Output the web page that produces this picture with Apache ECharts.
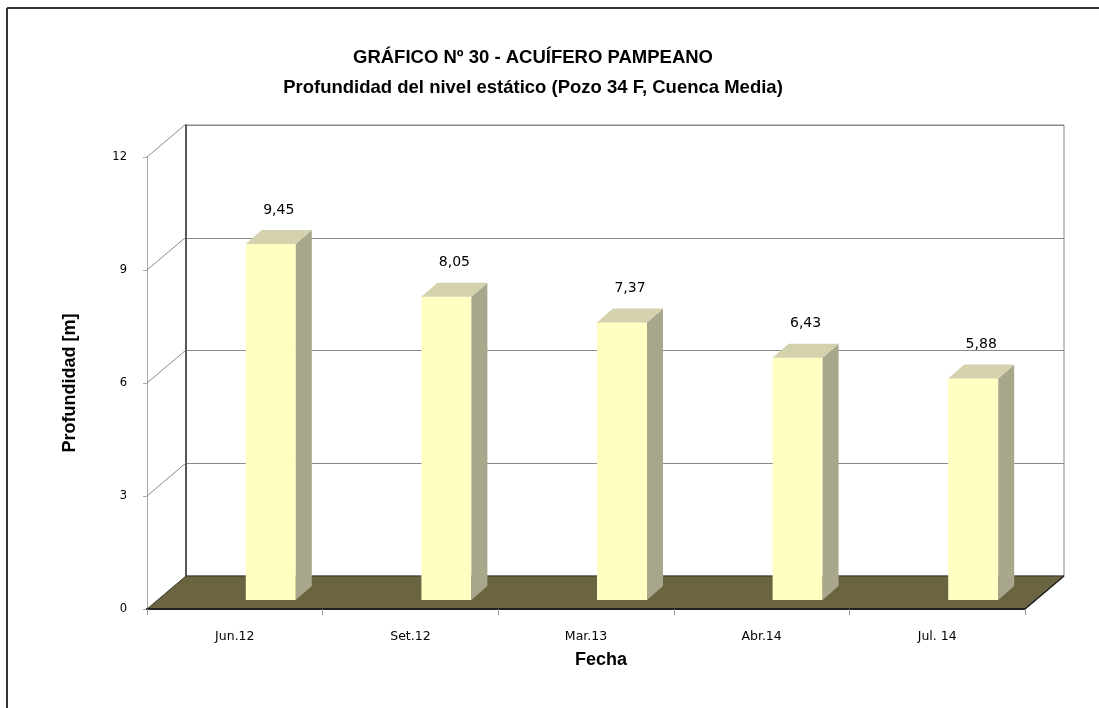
<!DOCTYPE html>
<html>
<head>
<meta charset="utf-8" />
<title>Acuífero Pampeano</title>
<script type="text/javascript" src="https://cdn.jsdelivr.net/npm/echarts@6/dist/echarts.min.js"></script>
<style>
  html, body { margin: 0; padding: 0; background: #fff; }
  #main { width: 1099px; height: 708px; }
</style>
</head>
<body>
<div id="main"></div>
<script type="text/javascript">
  var categories = ['Jun.12', 'Set.12', 'Mar.13', 'Abr.14', 'Jul. 14'];
  var depths = [9.45, 8.05, 7.37, 6.43, 5.88];
  var yTicks = [0, 3, 6, 9, 12];

  var FONT = "'Liberation Sans', Arial, sans-serif";
  var SMALL = "'DejaVu Sans', Verdana, sans-serif";
  // 3d look: offset from front plane to back wall
  var DX = 39, DY = -33;

  var myChart = echarts.init(document.getElementById('main'));

  function fmt(v) {
    return v.toFixed(2).replace('.', ',');
  }

  // floor + left wall diagonals
  function renderFrame(params, api) {
    var cs = params.coordSys;
    var kids = [];
    var fy = cs.y + cs.height;
    kids.push({
      type: 'polygon',
      shape: { points: [[cs.x, fy], [cs.x + cs.width, fy], [cs.x + cs.width + DX, fy + DY], [cs.x + DX, fy + DY]] },
      style: { fill: '#6a6440', stroke: '#3a3626', lineWidth: 1 }
    });
    kids.push({
      type: 'line',
      shape: { x1: cs.x + cs.width, y1: fy, x2: cs.x + cs.width + DX, y2: fy + DY },
      style: { stroke: '#222', lineWidth: 1.5 }
    });
    for (var i = 1; i < yTicks.length; i++) {
      var p = api.coord([0, yTicks[i]]);
      kids.push({
        type: 'line',
        shape: { x1: cs.x, y1: p[1], x2: cs.x + DX, y2: p[1] + DY },
        style: { stroke: '#8a8a80', lineWidth: 1 }
      });
    }
    return { type: 'group', children: kids };
  }

  function renderBar(params, api) {
    var i = api.value(0), v = api.value(1);
    var base = api.coord([i, 0]);
    var top = api.coord([i, v]);
    var cx = base[0] + 36, w = 50;
    var by = base[1] - 9, ty = top[1] - 9;
    var x0 = cx - w / 2, x1 = cx + w / 2;
    var dx = 16, dy = -14;
    return {
      type: 'group',
      children: [
        { type: 'rect', shape: { x: x0, y: ty, width: w, height: by - ty }, style: { fill: '#ffffc2' } },
        { type: 'polygon', shape: { points: [[x1, ty], [x1 + dx, ty + dy], [x1 + dx, by + dy], [x1, by]] }, style: { fill: '#a9a78b' } },
        { type: 'polygon', shape: { points: [[x0, ty], [x0 + dx, ty + dy], [x1 + dx, ty + dy], [x1, ty]] }, style: { fill: '#d4d2ad' } },
        {
          type: 'text',
          style: {
            text: fmt(v), x: cx + 8, y: ty - 34,
            align: 'center', verticalAlign: 'middle',
            font: '14px ' + SMALL, fill: '#000'
          }
        }
      ]
    };
  }

  myChart.setOption({
    animation: false,
    title: {
      text: 'GRÁFICO Nº 30 - ACUÍFERO PAMPEANO\nProfundidad del nivel estático (Pozo 34 F, Cuenca Media)',
      left: 528, top: 38, textAlign: 'center',
      textStyle: { fontFamily: FONT, fontSize: 18.5, fontWeight: 'bold', color: '#000', lineHeight: 30 }
    },
    graphic: [
      { type: 'line', shape: { x1: 7, y1: 8, x2: 1099, y2: 8 }, style: { stroke: '#333', lineWidth: 2 } },
      { type: 'line', shape: { x1: 7, y1: 8, x2: 7, y2: 708 }, style: { stroke: '#333', lineWidth: 2 } }
    ],
    grid: [
      { left: 147, top: 157, width: 878, height: 452 },
      { left: 186, top: 125, width: 878, height: 451, show: true, borderColor: '#8a8a80', borderWidth: 1, z: 0 }
    ],
    xAxis: [
      {
        type: 'category', gridIndex: 0, data: categories,
        name: 'Fecha', nameLocation: 'middle', nameGap: 42,
        nameTextStyle: { fontFamily: FONT, fontSize: 18, fontWeight: 'bold', color: '#000', padding: [0, 0, 0, 30] },
        axisLine: { lineStyle: { color: '#222', width: 2 } },
        axisTick: { show: true, interval: 0, length: 6, lineStyle: { color: '#999' } },
        axisLabel: { fontFamily: SMALL, fontSize: 12.5, color: '#000', margin: 21 },
        z: 5
      },
      { type: 'category', gridIndex: 1, data: categories, show: false }
    ],
    yAxis: [
      {
        type: 'value', gridIndex: 0, min: 0, max: 12, interval: 3,
        name: 'Profundidad [m]', nameLocation: 'middle', nameGap: 68,
        nameTextStyle: { fontFamily: FONT, fontSize: 18, fontWeight: 'bold', color: '#000' },
        axisLine: { show: true, lineStyle: { color: '#aaa' } },
        axisTick: { show: true, length: 4, lineStyle: { color: '#aaa' } },
        axisLabel: { fontFamily: SMALL, fontSize: 11.5, color: '#000', margin: 20 },
        splitLine: { show: false }
      },
      {
        type: 'value', gridIndex: 1, min: 0, max: 12, interval: 3,
        axisLine: { show: true, lineStyle: { color: '#333', width: 1.5 } },
        axisTick: { show: false },
        axisLabel: { show: false },
        splitLine: { show: true, lineStyle: { color: '#8a8a80', width: 1 } }
      }
    ],
    series: [
      {
        type: 'custom', xAxisIndex: 0, yAxisIndex: 0,
        renderItem: renderFrame, data: [[0, 0]], silent: true, z: 1
      },
      {
        type: 'custom', xAxisIndex: 0, yAxisIndex: 0,
        renderItem: renderBar,
        data: depths.map(function (d, i) { return [i, d]; }),
        z: 3
      }
    ]
  });
</script>
</body>
</html>
